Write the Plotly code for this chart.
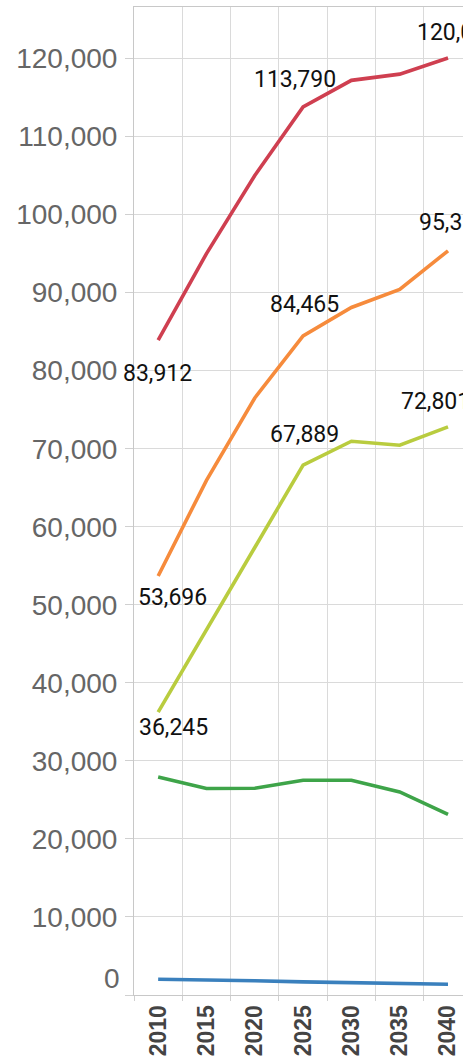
import plotly.graph_objects as go

years = ["2010", "2015", "2020", "2025", "2030", "2035", "2040"]

series_red = [83912, 95000, 105000, 113790, 117200, 118000, 120061]
series_orange = [53696, 65950, 76500, 84465, 88100, 90400, 95362]
series_yellow = [36245, 46800, 57500, 67889, 70960, 70450, 72801]
series_green = [27950, 26460, 26500, 27520, 27520, 26020, 23160]
series_blue = [2020, 1950, 1820, 1680, 1560, 1460, 1380]

y_tick_values = [0, 10000, 20000, 30000, 40000, 50000, 60000, 70000,
                 80000, 90000, 100000, 110000, 120000]
y_tick_text = ["", "10,000", "20,000", "30,000", "40,000", "50,000", "60,000",
               "70,000", "80,000", "90,000", "100,000", "110,000", "120,000"]

colors = ["#cf3f50", "#f68b3c", "#b9cc3f", "#3ea449", "#3a80bd"]
all_series = [series_red, series_orange, series_yellow, series_green, series_blue]

fig = go.Figure()
for s, c in zip(all_series, colors):
    fig.add_trace(go.Scatter(x=years, y=s, mode="lines",
                             line=dict(color=c, width=3.6), showlegend=False,
                             hoverinfo="skip"))

# labelled points: (series, index) and pixel offsets (style only)
label_points = [
    (series_red, 0, -1, -33), (series_red, 3, -8, 27), (series_red, 6, 10, 26),
    (series_orange, 0, 14, -22), (series_orange, 3, 1, 31), (series_orange, 6, 5, 28),
    (series_yellow, 0, 15, -15), (series_yellow, 3, 1, 31), (series_yellow, 6, -13, 25),
]
for s, i, dx, dy in label_points:
    # category axis: annotation x uses the category index
    fig.add_annotation(x=i, y=s[i], text=f"{s[i]:,}", showarrow=False,
                       xshift=dx, yshift=dy,
                       font=dict(family="Roboto", size=23, color="#111111"))

# zero label (drawn slightly above the axis line as in the reference)
fig.add_annotation(xref="paper", x=0, y=0, text="0", showarrow=False,
                   xanchor="right", xshift=-12, yshift=17,
                   font=dict(family="Liberation Sans", size=28, color="#666666"))

grid = "#dadada"
fig.update_xaxes(type="category", tickson="boundaries", range=[-0.5, 6.31],
                 showgrid=True, gridcolor=grid, gridwidth=1,
                 showline=True, linecolor="#c8c8c8", linewidth=1, mirror=True,
                 ticks="outside", ticklen=5, tickcolor="#d0d0d0",
                 tickangle=-90,
                 tickfont=dict(family="Liberation Sans", size=23, color="#444444",
                               weight="bold"),
                 zeroline=False, fixedrange=True)
fig.update_yaxes(range=[0, 126600], tickvals=y_tick_values, ticktext=y_tick_text,
                 showgrid=True, gridcolor=grid, gridwidth=1,
                 showline=True, linecolor="#c8c8c8", linewidth=1, mirror=True,
                 ticks="outside", ticklen=8, tickcolor="#d0d0d0",
                 ticklabelstandoff=2,
                 tickfont=dict(family="Liberation Sans", size=28, color="#666666"),
                 zeroline=False, fixedrange=True)

fig.update_layout(width=463, height=1062,
                  margin=dict(l=134, r=0, t=7, b=67, pad=0),
                  paper_bgcolor="white", plot_bgcolor="white")

fig.write_html("out.html", config={"displayModeBar": False},
               post_script="document.body.style.margin='0';"
                           "document.body.style.overflow='hidden';")
